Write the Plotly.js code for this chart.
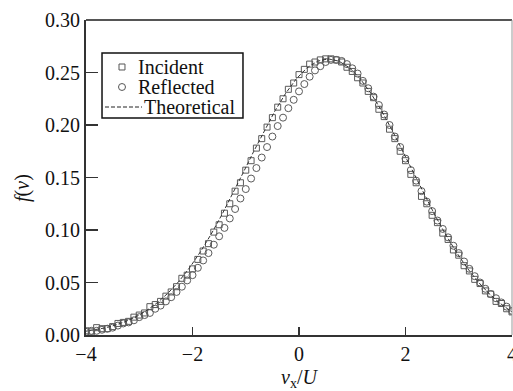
<!DOCTYPE html>
<html>
<head>
<meta charset="utf-8">
<script src="https://cdn.plot.ly/plotly-3.0.1.min.js"></script>
<style>html,body{margin:0;padding:0;background:#fff;overflow:hidden;}#chart{width:513px;height:391px;}</style>
</head>
<body>
<div id="chart"></div>
<script>
// Measured sample velocities (v/U) for the marker series
const markerX = [-4.0,-3.9,-3.8,-3.7,-3.6,-3.5,-3.4,-3.3,-3.2,-3.1,-3.0,-2.9,-2.8,-2.7,-2.6,-2.5,-2.4,-2.3,-2.2,-2.1,
  -2.0,-1.9,-1.8,-1.7,-1.6,-1.5,-1.4,-1.3,-1.2,-1.1,-1.0,-0.9,-0.8,-0.7,-0.6,-0.5,-0.4,-0.3,-0.2,-0.1,
  0.0,0.1,0.2,0.3,0.4,0.5,0.6,0.7,0.8,0.9,1.0,1.1,1.2,1.3,1.4,1.5,1.6,1.7,1.8,1.9,
  2.0,2.1,2.2,2.3,2.4,2.5,2.6,2.7,2.8,2.9,3.0,3.1,3.2,3.3,3.4,3.5,3.6,3.7,3.8,3.9,4.0];

const incident = [0.004,0.003,0.007,0.006,0.006,0.008,0.011,0.012,0.013,0.017,0.019,0.021,0.027,0.029,0.032,0.037,0.041,0.046,0.054,0.057,
  0.063,0.072,0.080,0.087,0.098,0.105,0.116,0.125,0.137,0.145,0.157,0.166,0.178,0.187,0.198,0.207,0.217,0.225,0.234,0.240,
  0.248,0.253,0.258,0.260,0.262,0.263,0.263,0.262,0.260,0.255,0.251,0.245,0.240,0.232,0.226,0.215,0.208,0.196,0.187,0.175,
  0.166,0.153,0.145,0.132,0.125,0.114,0.107,0.097,0.091,0.081,0.076,0.066,0.061,0.053,0.049,0.042,0.039,0.032,0.030,0.025,0.022];

const reflected = [0.003,0.004,0.004,0.005,0.006,0.007,0.009,0.011,0.012,0.014,0.017,0.019,0.021,0.025,0.028,0.032,0.036,0.041,0.046,0.052,
  0.057,0.064,0.071,0.078,0.086,0.094,0.102,0.111,0.120,0.130,0.139,0.149,0.159,0.169,0.179,0.189,0.199,0.207,0.216,0.224,
  0.232,0.239,0.246,0.252,0.256,0.260,0.262,0.262,0.261,0.258,0.254,0.249,0.242,0.235,0.227,0.219,0.210,0.200,0.189,0.179,
  0.168,0.157,0.147,0.137,0.127,0.118,0.109,0.101,0.093,0.085,0.078,0.070,0.063,0.056,0.050,0.044,0.039,0.035,0.031,0.027,0.023];

// Theoretical curve
const theoryX = [-4.05,-3.85,-3.65,-3.45,-3.25,-3.05,-2.85,-2.65,-2.45,-2.25,-2.05,-1.85,-1.65,-1.45,-1.25,-1.05,-0.85,-0.65,-0.45,-0.25,
  -0.05,0.15,0.35,0.55,0.75,0.95,1.15,1.35,1.55,1.75,1.95,2.15,2.35,2.55,2.75,2.95,3.15,3.35,3.55,3.75,3.95,4.15];
const theoryY = [0.0032,0.0047,0.0067,0.0094,0.0130,0.0177,0.0237,0.0312,0.0404,0.0514,0.0644,0.0793,0.0960,0.1144,0.1340,0.1544,0.1749,0.1949,0.2136,0.2302,
  0.2440,0.2544,0.2608,0.2630,0.2608,0.2544,0.2440,0.2302,0.2136,0.1949,0.1749,0.1544,0.1340,0.1144,0.0960,0.0793,0.0644,0.0514,0.0404,0.0312,0.0237,0.0177];

const xTicks = [-4,-2,0,2,4];
const xTickText = ['\u22124','\u22122','0','2','4'];
const yTicks = [0,0.05,0.10,0.15,0.20,0.25,0.30];
const yTickText = ['0.00','0.05','0.10','0.15','0.20','0.25','0.30'];
const seriesNames = ['Incident','Reflected','Theoretical'];

const serif = 'Liberation Serif, Times New Roman, serif';
const ink = '#111';

const traces = [
  {x: markerX, y: incident, name: seriesNames[0], type: 'scatter', mode: 'markers', showlegend: false,
   marker: {symbol: 'square-open', size: 6, color: '#5a5a5a', line: {width: 1}}},
  {x: markerX, y: reflected, name: seriesNames[1], type: 'scatter', mode: 'markers', showlegend: false,
   marker: {symbol: 'circle-open', size: 7, color: '#5a5a5a', line: {width: 1}}},
  {x: theoryX, y: theoryY, name: seriesNames[2], type: 'scatter', mode: 'lines', showlegend: false,
   line: {color: '#333', width: 1, dash: '4px,2px'}}
];

// key (legend) box drawn in paper coordinates
const keyBox = {x0: 0.0376, x1: 0.3685, y0: 0.6889, y1: 0.8952};
const keyRows = [0.8508, 0.7873, 0.7238];

const layout = {
  width: 513, height: 391,
  margin: {l: 86, r: 1, t: 20, b: 56},
  paper_bgcolor: '#fff', plot_bgcolor: '#fff',
  font: {family: serif, size: 20, color: ink},
  showlegend: false,
  xaxis: {range: [-4, 4], tickvals: xTicks, ticktext: xTickText,
    showgrid: false, zeroline: false, showline: true, linecolor: '#333', linewidth: 2,
    ticks: 'inside', ticklen: 8, tickwidth: 1.5, tickcolor: '#333',
    ticklabeloverflow: 'allow',
    tickfont: {family: serif, size: 20, color: ink},
    title: {text: '<i>v</i><sub>x</sub>/<i>U</i>', font: {family: serif, size: 20, color: ink}, standoff: 9},
    automargin: false},
  yaxis: {range: [0, 0.30], tickvals: yTicks, ticktext: yTickText,
    showgrid: false, zeroline: false, showline: true, linecolor: '#333', linewidth: 2,
    ticks: 'inside', ticklen: 12, tickwidth: 1.5, tickcolor: '#333',
    tickfont: {family: serif, size: 20, color: ink},
    automargin: false},
  annotations: [
    {text: '<i>f</i>(<i>v</i>)', xref: 'paper', yref: 'paper', x: -0.148, y: 0.4667,
     xanchor: 'center', yanchor: 'middle', textangle: -90, showarrow: false,
     font: {family: serif, size: 20, color: ink}},
    {text: seriesNames[0], xref: 'paper', yref: 'paper', x: 0.1174, y: keyRows[0],
     xanchor: 'left', yanchor: 'middle', showarrow: false, font: {family: serif, size: 20, color: ink}},
    {text: seriesNames[1], xref: 'paper', yref: 'paper', x: 0.1174, y: keyRows[1],
     xanchor: 'left', yanchor: 'middle', showarrow: false, font: {family: serif, size: 20, color: ink}},
    {text: seriesNames[2], xref: 'paper', yref: 'paper', x: 0.1315, y: keyRows[2],
     xanchor: 'left', yanchor: 'middle', showarrow: false, font: {family: serif, size: 20, color: ink}}
  ],
  shapes: [
    {type: 'line', xref: 'paper', yref: 'paper', x0: 0, x1: 1, y0: 1, y1: 1, line: {color: '#555', width: 2}},
    {type: 'line', xref: 'paper', yref: 'paper', x0: 1, x1: 1, y0: 0, y1: 1, line: {color: '#999', width: 1}},
    {type: 'rect', xref: 'paper', yref: 'paper', x0: keyBox.x0, x1: keyBox.x1, y0: keyBox.y0, y1: keyBox.y1,
     line: {color: ink, width: 1.5}, fillcolor: '#fff'},
    {type: 'rect', xref: 'paper', yref: 'paper', x0: 0.0775, x1: 0.0915, y0: keyRows[0] - 0.0095, y1: keyRows[0] + 0.0095,
     line: {color: '#555', width: 1}, fillcolor: 'rgba(0,0,0,0)'},
    {type: 'circle', xref: 'paper', yref: 'paper', x0: 0.0763, x1: 0.0927, y0: keyRows[1] - 0.011, y1: keyRows[1] + 0.011,
     line: {color: '#555', width: 1}, fillcolor: 'rgba(0,0,0,0)'},
    {type: 'line', xref: 'paper', yref: 'paper', x0: 0.0446, x1: 0.1315, y0: keyRows[2], y1: keyRows[2],
     line: {color: '#222', width: 1, dash: '4px,2px'}}
  ]
};

Plotly.newPlot('chart', traces, layout, {displayModeBar: false, staticPlot: true});
</script>
</body>
</html>
